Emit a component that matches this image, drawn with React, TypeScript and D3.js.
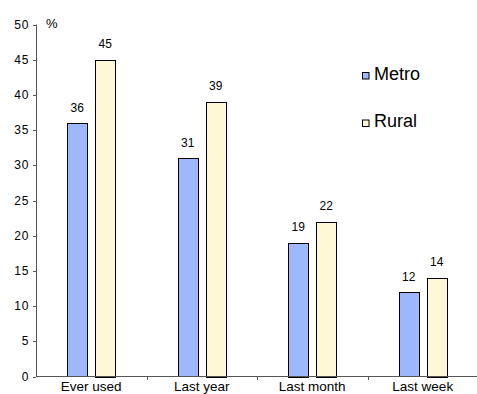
import React from "react";
import * as d3 from "d3";

const categories = ["Ever used", "Last year", "Last month", "Last week"];
const seriesNames = ["Metro", "Rural"];
const metroValues = [36, 31, 19, 12];
const ruralValues = [45, 39, 22, 14];
const yTicks = [0, 5, 10, 15, 20, 25, 30, 35, 40, 45, 50];

const colors: Record<string, string> = { Metro: "#9db8ff", Rural: "#fff8d7" };

const W = 477;
const H = 394;
const left = 36;
const right = 478;
const y0 = 376.5;
const y50 = 24.5;
const font = "'Liberation Sans', Arial, sans-serif";

export default function App() {
  const x = d3.scaleBand<string>().domain(categories).range([left, right]).paddingInner(0).paddingOuter(0);
  const y = d3.scaleLinear().domain([0, 50]).range([y0, y50]);
  const sub = d3.scaleBand<string>().domain(seriesNames).range([-23.8, 23.8]).paddingInner(0.3);

  const rows = categories.map((c, i) => ({
    category: c,
    values: [
      { name: "Metro", value: metroValues[i] },
      { name: "Rural", value: ruralValues[i] },
    ],
  }));

  return (
    <svg width={W} height={H} style={{ position: "absolute", left: 0, top: 0 }} fontFamily={font}>
      <rect width={W} height={H} fill="#fff" />
      {/* bars and value labels */}
      {rows.map((r) => {
        const cx = (x(r.category) as number) + x.bandwidth() / 2;
        return (
          <g key={r.category}>
            {r.values.map((v) => {
              const bx = cx + (sub(v.name) as number);
              const top = y(v.value);
              return (
                <g key={v.name}>
                  <rect
                    x={Math.round(bx) + 0.5}
                    y={Math.round(top) + 0.5}
                    width={Math.round(sub.bandwidth())}
                    height={Math.round(y0 - top)}
                    fill={colors[v.name]}
                    stroke="#000"
                    strokeWidth={1}
                  />
                  <text
                    x={bx + sub.bandwidth() / 2}
                    y={top - 11.5}
                    textAnchor="middle"
                    fontSize={12}
                    fill="#000"
                  >
                    {v.value}
                  </text>
                </g>
              );
            })}
          </g>
        );
      })}
      {/* y axis */}
      <line x1={left + 0.5} x2={left + 0.5} y1={y50} y2={y0} stroke="#555" />
      {yTicks.map((t) => (
        <g key={t}>
          <line x1={left - 3} x2={left} y1={Math.round(y(t)) + 0.5} y2={Math.round(y(t)) + 0.5} stroke="#555" />
          <text x={29.5} y={y(t) + 4} textAnchor="end" fontSize={12} letterSpacing={1} fill="#000">
            {t}
          </text>
        </g>
      ))}
      <text x={46} y={28} fontSize={13} fill="#000">%</text>
      {/* x axis */}
      <line x1={left} x2={W} y1={y0} y2={y0} stroke="#555" />
      {categories.slice(1).map((c) => (
        <line key={c} x1={Math.round(x(c) as number) + 0.5} x2={Math.round(x(c) as number) + 0.5} y1={y0} y2={y0 + 3.5} stroke="#555" />
      ))}
      {categories.map((c) => (
        <text key={c} x={(x(c) as number) + x.bandwidth() / 2} y={390.5} textAnchor="middle" fontSize={13.5} fill="#000">
          {c}
        </text>
      ))}
      {/* legend */}
      {seriesNames.map((s, i) => (
        <g key={s} transform={`translate(362, ${72 + i * 47.5})`}>
          <rect x={0.5} y={0.5} width={6.5} height={6.5} fill={colors[s]} stroke="#000" strokeWidth={1} />
          <text x={12} y={7.5} fontSize={18} fill="#000">
            {s}
          </text>
        </g>
      ))}
    </svg>
  );
}
